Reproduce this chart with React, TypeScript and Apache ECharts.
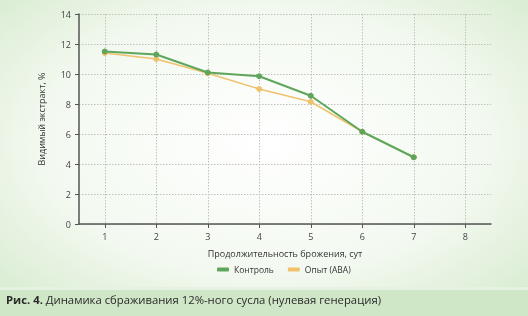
import React, { useEffect, useRef } from "react";
import * as echarts from "echarts";

const days = [1, 2, 3, 4, 5, 6, 7];
const control = [11.5, 11.3, 10.1, 9.85, 8.55, 6.15, 4.45];
const experiment = [11.4, 11.0, 10.05, 9.0, 8.15, 6.15, 4.45];
const xLabels = [1, 2, 3, 4, 5, 6, 7, 8];
const seriesNames = ["Контроль", "Опыт (ABA)"];

const FONT = "'Open Sans', 'Noto Sans', sans-serif";

export default function App() {
  const ref = useRef<HTMLDivElement>(null);
  useEffect(() => {
    const chart = echarts.init(ref.current!, null, { renderer: "svg" });
    const grid = "#bfc3bb";
    chart.setOption({
      animation: false,
      backgroundColor: {
        type: "radial",
        x: 0.5,
        y: 0.45,
        r: 0.75,
        colorStops: [
          { offset: 0, color: "#ffffff" },
          { offset: 0.55, color: "#f3f9f0" },
          { offset: 1, color: "#d3e9cb" },
        ],
      },
      graphic: [
        {
          type: "rect",
          left: 0,
          top: 287,
          shape: { width: 528, height: 3 },
          style: { fill: "#e6f2e1" },
          silent: true,
        },
        {
          type: "rect",
          left: 0,
          top: 290,
          shape: { width: 528, height: 26 },
          style: { fill: "#cfe7c6" },
          silent: true,
        },
        {
          type: "text",
          left: 6,
          top: 294,
          style: {
            text: "{b|Рис. 4.} Динамика сбраживания 12%-ного сусла (нулевая генерация)",
            fontFamily: FONT,
            fontSize: 11.3,
            fill: "#2a2a2a",
            rich: {
              b: { fontWeight: "bold", fontSize: 11.3, fontFamily: FONT, fill: "#2a2a2a" },
            },
          },
        },
      ],
      legend: {
        top: 260,
        left: 212,
        itemWidth: 12,
        itemHeight: 4,
        itemGap: 14,
        icon: "roundRect",
        textStyle: { fontFamily: FONT, fontSize: 8.5, color: "#333" },
        data: seriesNames,
      },
      grid: { left: 79, right: 37, top: 14, bottom: 92 },
      xAxis: {
        type: "value",
        min: 0.5,
        max: 8.5,
        interval: 0.5,
        name: "Продолжительность брожения, сут",
        nameLocation: "middle",
        nameGap: 25,
        nameTextStyle: { fontFamily: FONT, fontSize: 9, color: "#333" },
        axisLine: { lineStyle: { color: "#555", width: 1.5 } },
        axisTick: {
          customValues: xLabels,
          length: 4,
          lineStyle: { color: "#555", width: 1 },
        },
        axisLabel: {
          customValues: xLabels,
          fontFamily: FONT,
          fontSize: 9,
          color: "#444",
          margin: 8,
        },
        splitLine: { show: true, lineStyle: { color: grid, type: [1.5, 1.5], width: 1 } },
      },
      yAxis: {
        type: "value",
        min: 0,
        max: 14,
        interval: 2,
        name: "Видимый экстракт, %",
        nameLocation: "middle",
        nameGap: 33,
        nameTextStyle: { fontFamily: FONT, fontSize: 9, color: "#333" },
        axisLine: { show: true, lineStyle: { color: "#555", width: 1.5 } },
        axisTick: { show: true, length: 4, lineStyle: { color: "#555" } },
        axisLabel: { fontFamily: FONT, fontSize: 9, color: "#444", margin: 8 },
        splitLine: { show: true, lineStyle: { color: grid, type: [1.5, 1.5], width: 1 } },
      },
      series: [
        {
          name: seriesNames[1],
          type: "line",
          data: days.map((d, i) => [d, experiment[i]]),
          symbol: "circle",
          symbolSize: 6,
          itemStyle: { color: "#f0c26e" },
          lineStyle: { color: "#f0c26e", width: 1.5 },
          z: 2,
        },
        {
          name: seriesNames[0],
          type: "line",
          data: days.map((d, i) => [d, control[i]]),
          symbol: "circle",
          symbolSize: 6,
          itemStyle: { color: "#5fa65c" },
          lineStyle: { color: "#5fa65c", width: 2 },
          z: 3,
        },
      ],
    });
    return () => chart.dispose();
  }, []);
  return (
    <div
      ref={ref}
      style={{ position: "fixed", left: 0, top: 0, width: 528, height: 316 }}
    />
  );
}
